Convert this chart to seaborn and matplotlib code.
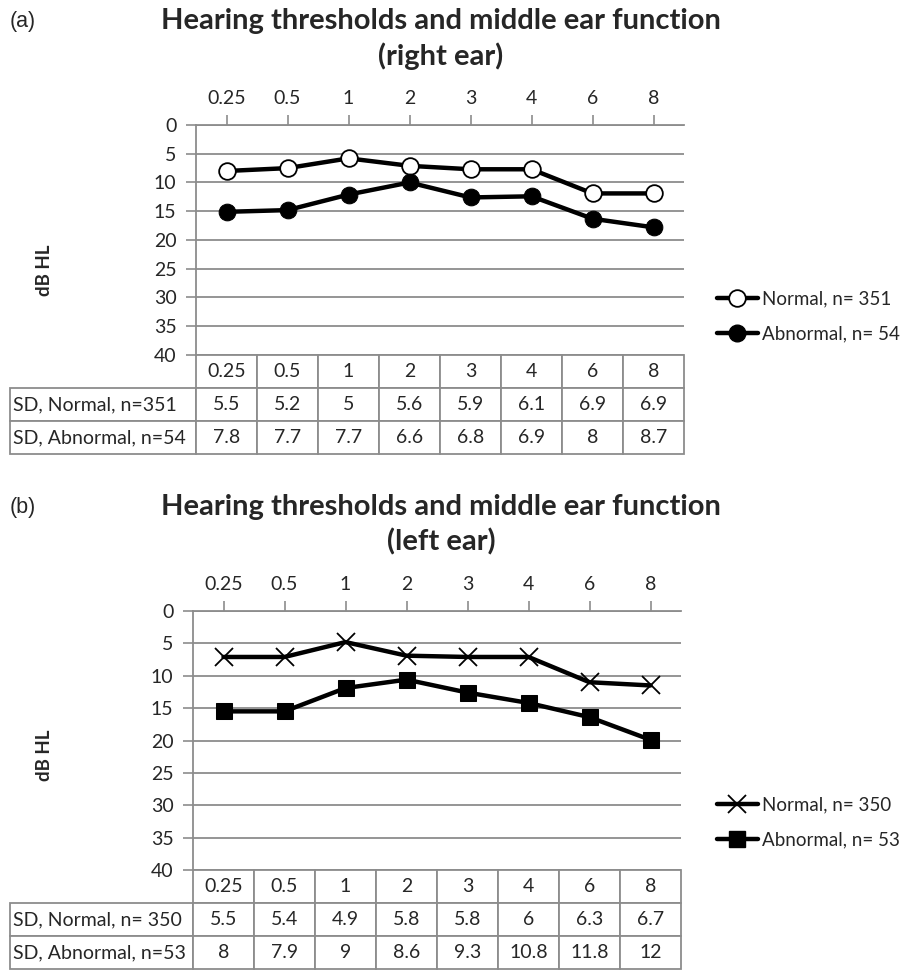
import numpy as np
import pandas as pd
import matplotlib
matplotlib.use("Agg")
import matplotlib.pyplot as plt
import seaborn as sns
from matplotlib.lines import Line2D

# frequencies (kHz)
freqs = ['0.25', '0.5', '1', '2', '3', '4', '6', '8']

# right ear thresholds (dB HL)
right_normal = [8.0, 7.5, 5.8, 7.1, 7.7, 7.7, 11.9, 11.9]
right_abnormal = [15.1, 14.8, 12.1, 10.0, 12.6, 12.4, 16.3, 17.8]
right_sd_normal = ['5.5', '5.2', '5', '5.6', '5.9', '6.1', '6.9', '6.9']
right_sd_abnormal = ['7.8', '7.7', '7.7', '6.6', '6.8', '6.9', '8', '8.7']

# left ear thresholds (dB HL)
left_normal = [7.1, 7.1, 4.8, 6.9, 7.1, 7.1, 11.0, 11.5]
left_abnormal = [15.5, 15.5, 11.9, 10.6, 12.6, 14.2, 16.4, 19.9]
left_sd_normal = ['5.5', '5.4', '4.9', '5.8', '5.8', '6', '6.3', '6.7']
left_sd_abnormal = ['8', '7.9', '9', '8.6', '9.3', '10.8', '11.8', '12']

sns.set_style('white')
plt.rcParams['font.family'] = ['Lato', 'DejaVu Sans']

W, H = 905, 971
GRAY = '#8c8c8c'
fig = plt.figure(figsize=(W / 100, H / 100), dpi=100)


def panel(tag, title, left, right, top, bottom, normal, abnormal,
          sd_n, sd_a, lab_n, lab_a, row_n, row_a, mk_n, mk_a, leg_y, ylab_y):
    ax = fig.add_axes([left / W, 1 - bottom / H, (right - left) / W, (bottom - top) / H])
    pos = np.arange(len(freqs))
    df_n = pd.DataFrame({'pos': pos, 'db': normal})
    df_a = pd.DataFrame({'pos': pos, 'db': abnormal})

    if mk_n == 'o':
        kw_n = dict(marker='o', markersize=12, markerfacecolor='white',
                    markeredgecolor='black', markeredgewidth=1.3)
    else:
        kw_n = dict(marker='x', markersize=13, markeredgecolor='black',
                    markeredgewidth=1.3)
    if mk_a == 'o':
        kw_a = dict(marker='o', markersize=12, markerfacecolor='black',
                    markeredgecolor='black')
    else:
        kw_a = dict(marker='s', markersize=11, markerfacecolor='black',
                    markeredgecolor='black')

    sns.lineplot(data=df_n, x='pos', y='db', ax=ax, color='black', lw=3.2, **kw_n)
    sns.lineplot(data=df_a, x='pos', y='db', ax=ax, color='black', lw=3.2, **kw_a)

    ax.set_xlim(-0.5, len(freqs) - 0.5)
    ax.set_ylim(40, 0)
    ax.set_yticks(np.arange(0, 41, 5))
    ax.set_xticks(pos)
    ax.set_xticklabels(freqs)
    ax.xaxis.tick_top()
    ax.tick_params(axis='x', top=True, bottom=False, labeltop=True, labelbottom=False,
                   length=7, width=1.2, color=GRAY, pad=6, labelsize=14)
    ax.tick_params(axis='y', left=True, length=7, width=1.2, color=GRAY, pad=7, labelsize=14)
    ax.set_xlabel('')
    ax.set_ylabel('')
    ax.yaxis.grid(True, color=GRAY, lw=1.3)
    ax.xaxis.grid(False)
    for s in ['right', 'bottom']:
        ax.spines[s].set_visible(False)
    for s in ['left', 'top']:
        ax.spines[s].set_color(GRAY)
        ax.spines[s].set_linewidth(1.3)

    fig.text(44 / W, 1 - ylab_y / H, 'dB HL', rotation=90, fontsize=13.5,
             fontweight='bold', ha='center', va='center')
    fig.text(23 / W, 1 - (top - 103) / H, tag, fontsize=15.5, ha='center', va='center',
             family=['Liberation Sans', 'DejaVu Sans'])
    fig.text(441 / W, 1 - (top - 86) / H, title, fontsize=21, fontweight='bold',
             ha='center', va='center', linespacing=1.38)

    # table under the plot
    aw = right - left
    ah = bottom - top
    cells = [[''] + freqs, [row_n] + sd_n, [row_a] + sd_a]
    first = (left - 10) / aw
    col_w = [first] + [1 / len(freqs)] * len(freqs)
    rows_h = 99
    tb = ax.table(cellText=cells, colWidths=col_w, cellLoc='center',
                  bbox=[-first, -rows_h / ah, 1 + first, rows_h / ah])
    tb.auto_set_font_size(False)
    tb.set_fontsize(14)
    for (r, c), cell in tb.get_celld().items():
        cell.set_edgecolor(GRAY)
        cell.set_linewidth(1.3)
        if c == 0:
            cell.get_text().set_ha('left')
            cell._loc = 'left'
            cell.PAD = 0.015
        if r == 0 and c == 0:
            cell.visible_edges = ''

    handles = [Line2D([], [], color='black', lw=3.2, **kw_n),
               Line2D([], [], color='black', lw=3.2, **kw_a)]
    ax.legend(handles, [lab_n, lab_a], loc='upper left',
              bbox_to_anchor=(709 / W, 1 - leg_y / H), bbox_transform=fig.transFigure,
              frameon=False, fontsize=13.5, handlelength=2.2, handletextpad=0.25,
              labelspacing=0.95, borderaxespad=0)
    return ax


panel('(a)', 'Hearing thresholds and middle ear function\n(right ear)',
      196, 684, 125, 355, right_normal, right_abnormal,
      right_sd_normal, right_sd_abnormal,
      'Normal, n= 351', 'Abnormal, n= 54',
      'SD, Normal, n=351', 'SD, Abnormal, n=54', 'o', 'o', 283, 270)

panel('(b)', 'Hearing thresholds and middle ear function\n(left ear)',
      193, 681, 611, 870, left_normal, left_abnormal,
      left_sd_normal, left_sd_abnormal,
      'Normal, n= 350', 'Abnormal, n= 53',
      'SD, Normal, n= 350', 'SD, Abnormal, n=53', 'x', 's', 789, 755)

fig.savefig('out.png', dpi=100)
